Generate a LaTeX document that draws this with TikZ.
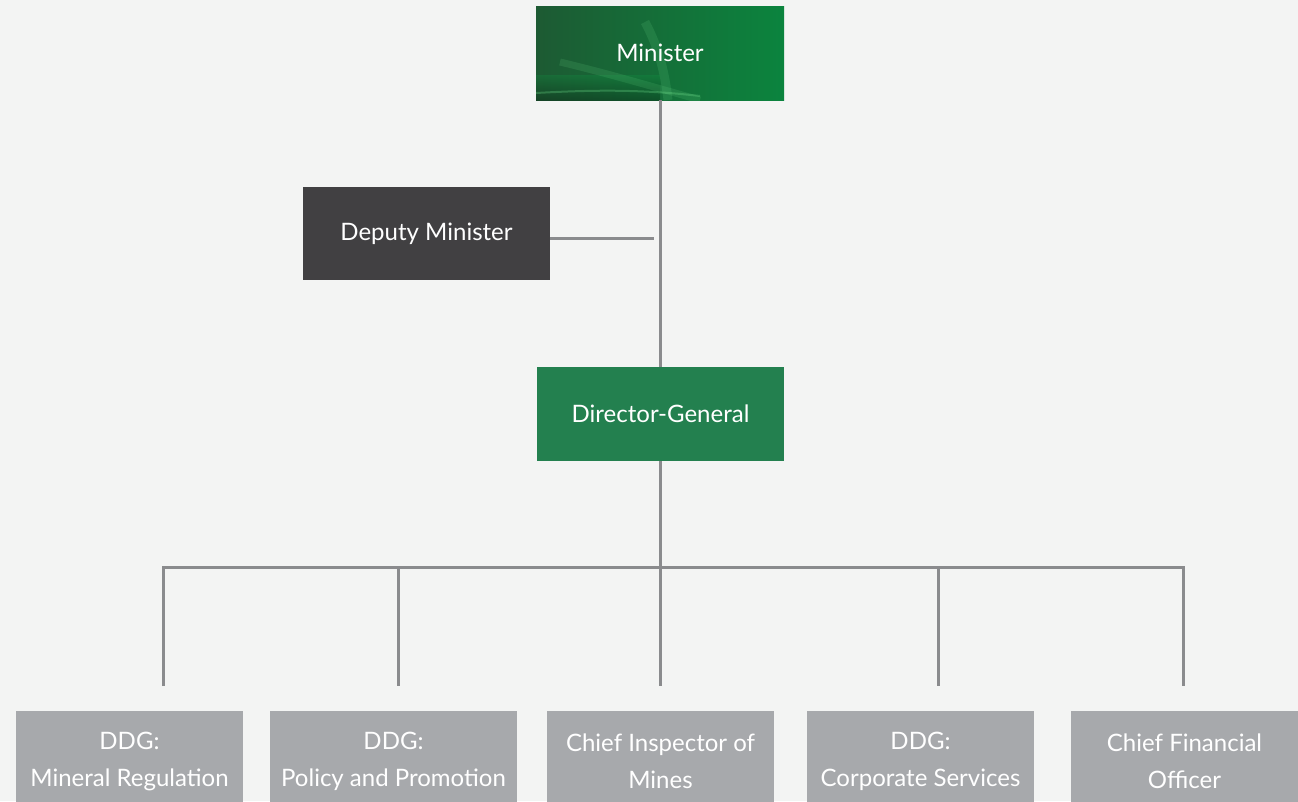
\documentclass[tikz,border=0pt]{standalone}
\usepackage{fontspec}
\setmainfont{Lato}
\begin{document}
\begin{tikzpicture}[x=1pt,y=-1pt,
  every node/.style={inner sep=0pt, outer sep=0pt},
  box/.style={minimum height=94pt, text=white, font=\fontsize{24}{37}\selectfont, align=center},
  subbox/.style={box, minimum width=227pt, minimum height=100pt, fill=subgrey},
  link/.style={draw=linegrey, line width=3pt}
]
\definecolor{bg}{HTML}{F3F4F3}
\definecolor{linegrey}{HTML}{8A8B8D}
\definecolor{depgrey}{HTML}{414042}
\definecolor{subgrey}{HTML}{A7A9AC}
\definecolor{dggreen}{HTML}{23804F}
\definecolor{mdark}{HTML}{1D5A33}
\definecolor{mmid}{HTML}{119A45}
\definecolor{mright}{HTML}{0B843E}
\definecolor{streak}{HTML}{6FDC8A}

\useasboundingbox (0,0) rectangle (1298,801);
\fill[bg] (0,0) rectangle (1298,801);

% Minister with gradient background
\shade[left color=mdark, middle color=mmid, right color=mright, shading angle=90] (536,6) rectangle (784,100);
\begin{scope}
  \clip (536,6) rectangle (784,100);
  \shade[top color=mmid, bottom color=black, opacity=0.25] (536,75) rectangle (660,100);
  \draw[streak, opacity=0.30, line width=2pt] (536,93) .. controls (590,90) and (640,89) .. (700,96);
  \draw[streak, opacity=0.15, line width=7pt] (560,62) .. controls (610,74) and (650,86) .. (700,100);
  \draw[streak, opacity=0.15, line width=9pt] (645,22) .. controls (660,50) and (665,75) .. (668,100);
\end{scope}
\node[box, minimum width=248pt] (min) at (660,53) {Minister};

\node[box, minimum width=247pt, minimum height=93pt, fill=depgrey] (dep) at (426.5,233.5) {Deputy Minister};
\node[box, minimum width=247pt, fill=dggreen] (dg) at (660.5,414) {Director-General};

\node[subbox] (b1) at (129.5,761) {DDG:\\Mineral Regulation};
\node[subbox, minimum width=247pt] (b2) at (393.5,761) {DDG:\\Policy and Promotion};
\node[subbox] (b3) at (660.5,761) {Chief Inspector of\\Mines};
\node[subbox] (b4) at (920.5,761) {DDG:\\Corporate Services};
\node[subbox] (b5) at (1184.5,761) {Chief Financial\\Officer};

\coordinate (depend) at (654,238);
\coordinate (bus) at (660,567);
\coordinate (busL) at (163,567);
\coordinate (busR) at (1183,567);
\coordinate (t1) at (163,686);
\coordinate (t2) at (398,686);
\coordinate (t3) at (660,686);
\coordinate (t4) at (938,686);
\coordinate (t5) at (1183,686);
\coordinate (j2) at (398,567);
\coordinate (j4) at (938,567);

\draw[link] (min.south -| bus) -- (dg.north -| bus);
\draw[link] (dep.east |- depend) -- (depend);
\draw[link] (dg.south -| bus) -- (bus);
\draw[link, line join=miter] (t1) -- (busL) -- (busR) -- (t5);
\draw[link] (j2) -- (t2);
\draw[link] (bus) -- (t3);
\draw[link] (j4) -- (t4);
\end{tikzpicture}
\end{document}
